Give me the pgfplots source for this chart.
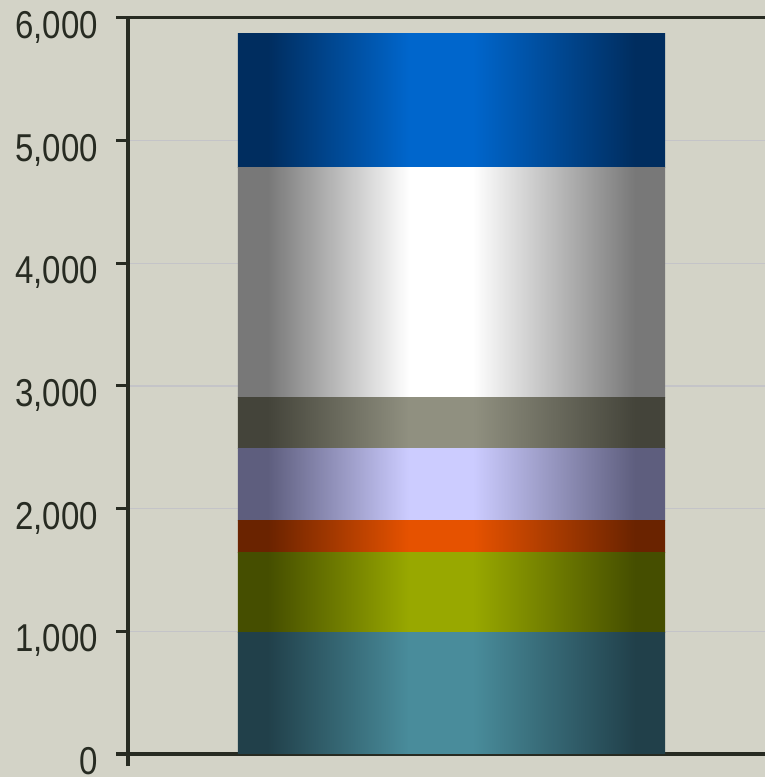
\documentclass[border=0pt]{standalone}
\usepackage{fontspec}
\setmainfont{Liberation Sans}[FakeStretch=0.85]
\usepackage{pgfplots}
\pgfplotsset{compat=1.18}

\definecolor{bgc}{RGB}{211,211,199}
\definecolor{axisc}{RGB}{39,43,34}
\definecolor{gridc}{RGB}{196,196,200}

% Horizontal "metal" shading: dark edges, bright band just left of centre.
% TikZ fits the path's bounding box to the inner 25bp--75bp of the shading.
\newcommand\barshade[3]{%
  \pgfdeclarehorizontalshading{#1}{100bp}{%
    color(0bp)=(#2); color(25bp)=(#2); color(28.5bp)=(#2);
    color(45bp)=(#3); color(52.5bp)=(#3);
    color(71.5bp)=(#2); color(75bp)=(#2); color(100bp)=(#2)}}
\barshade{shTeal}{rgb,255:red,33;green,64;blue,74}{rgb,255:red,73;green,140;blue,155}
\barshade{shOlive}{rgb,255:red,69;green,78;blue,0}{rgb,255:red,152;green,168;blue,0}
\barshade{shOrange}{rgb,255:red,106;green,35;blue,0}{rgb,255:red,230;green,82;blue,0}
\barshade{shLav}{rgb,255:red,94;green,94;blue,126}{rgb,255:red,204;green,204;blue,255}
\barshade{shGray}{rgb,255:red,68;green,68;blue,58}{rgb,255:red,144;green,144;blue,128}
\barshade{shWhite}{rgb,255:red,120;green,120;blue,120}{rgb,255:red,255;green,255;blue,255}
\barshade{shBlue}{rgb,255:red,0;green,45;blue,95}{rgb,255:red,0;green,102;blue,204}

% grid behind the bars, axis lines and ticks in front of them
\pgfplotsset{
  layers/gridbehind/.define layer set={
    axis background, axis grid, main, axis ticks, axis lines,
    axis tick labels, axis descriptions, axis foreground}{},
}

\begin{document}
\begin{tikzpicture}
\fill[bgc] (-128bp,-23bp) rectangle (637bp,754bp);
\begin{axis}[
  at={(0,0)}, anchor=south west,
  scale only axis, width=647bp, height=736bp,
  xmin=0, xmax=1, ymin=0, ymax=6000,
  set layers=gridbehind,
  ybar stacked, bar width=0.66,
  xtick={0,1}, xticklabels={}, ytick={0,1000,...,6000},
  ytick pos=left, xtick pos=bottom,
  tick align=outside, major tick length=12bp,
  every tick/.style={axisc, line width=3bp},
  axis line style={axisc, line width=3bp},
  ymajorgrids,
  grid style={gridc, line width=1.6bp},
  scaled y ticks=false,
  /pgf/number format/assume math mode=true,
  yticklabel={\pgfmathprintnumber[assume math mode=true,1000 sep={,}]{\tick}},
  yticklabel style={font=\fontsize{39}{39}\selectfont, text=axisc,
    inner sep=0pt, text depth=0pt, anchor=east, xshift=-18bp, yshift=-7bp},
]
\addplot[draw=none, shade, shading=shTeal] coordinates {(0.5,990)};
\addplot[draw=none, shade, shading=shOlive] coordinates {(0.5,654)};
\addplot[draw=none, shade, shading=shOrange] coordinates {(0.5,261)};
\addplot[draw=none, shade, shading=shLav] coordinates {(0.5,587)};
\addplot[draw=none, shade, shading=shGray] coordinates {(0.5,416)};
\addplot[draw=none, shade, shading=shWhite] coordinates {(0.5,1876)};
\addplot[draw=none, shade, shading=shBlue] coordinates {(0.5,1093)};
\end{axis}
\pgfresetboundingbox
\path[use as bounding box] (-128bp,-23bp) rectangle (637bp,754bp);
\end{tikzpicture}
\end{document}
